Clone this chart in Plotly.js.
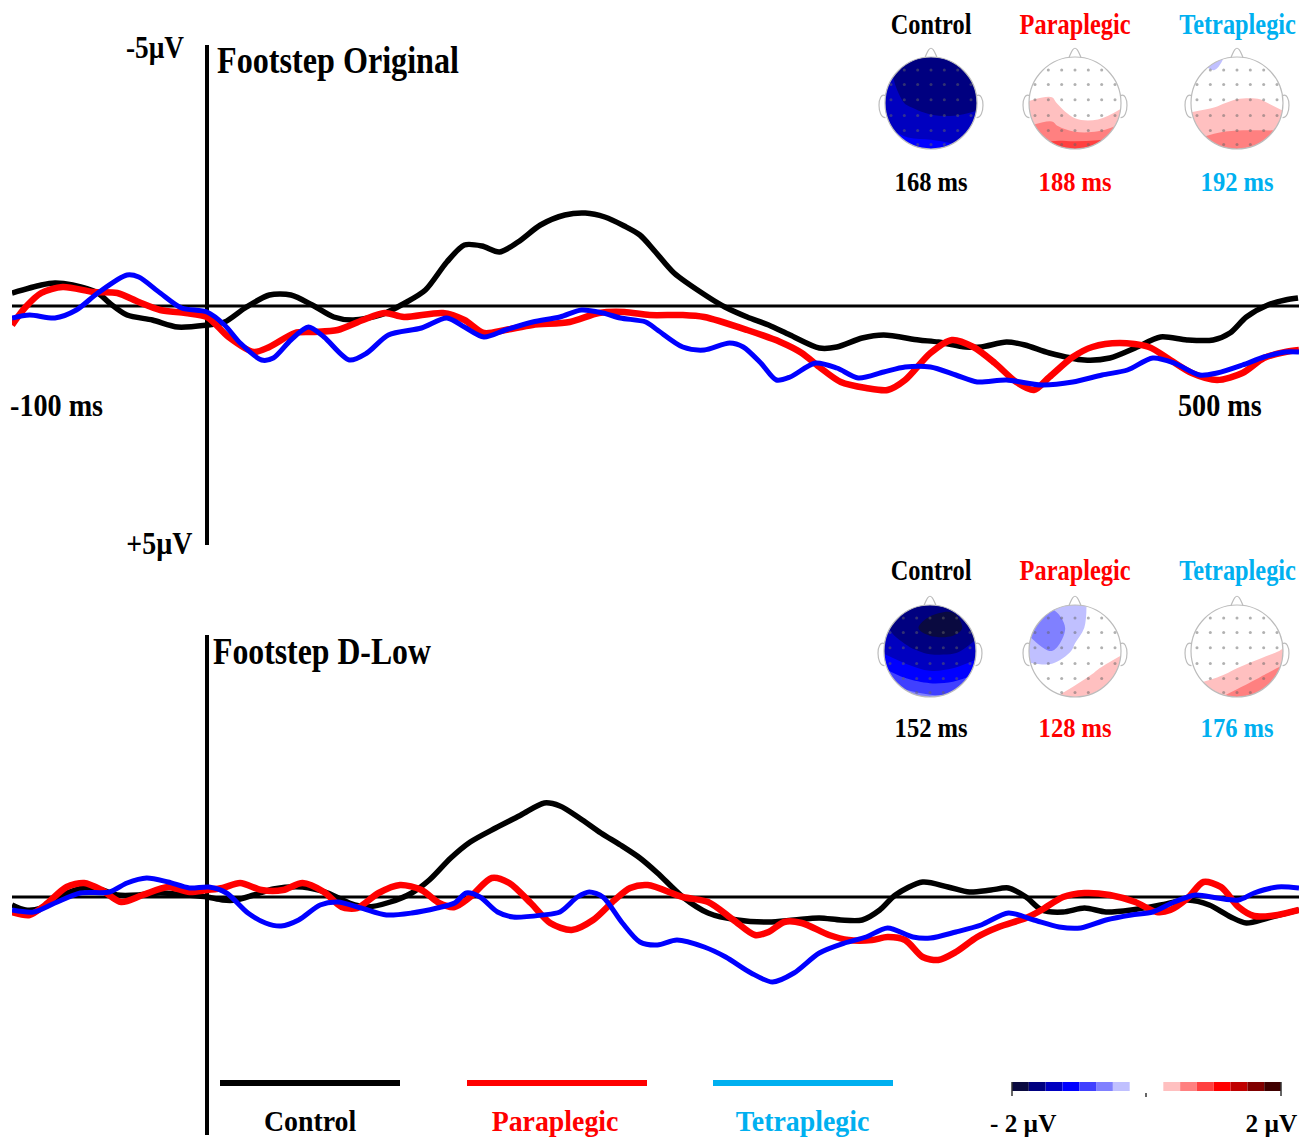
<!DOCTYPE html>
<html><head><meta charset="utf-8">
<script src="https://cdn.plot.ly/plotly-3.0.1.min.js"></script>
<style>html,body{margin:0;padding:0;background:#fff;}#chart{width:1308px;height:1142px;}</style>
</head><body><div id="chart"></div>
<script>
// ================= DATA =================
const groups = ['Control', 'Paraplegic', 'Tetraplegic'];
const panelTitles = ['Footstep Original', 'Footstep D-Low'];
const latOriginal = ['168 ms', '188 ms', '192 ms'];
const latDLow = ['152 ms', '128 ms', '176 ms'];
const timeLabels = ['-100 ms', '500 ms'];
const ampLabels = ['-5µV', '+5µV'];
const scaleLabels = ['- 2 µV', '2 µV'];

// Footstep Original (time in ms, amplitude in µV; negative plotted upward)
const origControlT = [-100,-85,-78,-69,-56,-50,-41,-28,-15,0,9,19.5,32,43,54,65,75,89,101.5,112,123,132,141,150,159.5,171,183.5,194,204,214,222,230,239.5,257,265.6,277,288,299,314,323,336,347,365,375,389,397,410,419.5,432,450,463,476,489,502.5,516,524.6,533,544,553,559.5];
const origControlV = [-0.26,-0.42,-0.46,-0.42,-0.26,-0.06,0.18,0.28,0.42,0.38,0.32,0.04,-0.22,-0.22,-0.02,0.22,0.28,0.18,-0.06,-0.32,-0.88,-1.22,-1.2,-1.08,-1.28,-1.62,-1.82,-1.86,-1.78,-1.6,-1.42,-1.08,-0.66,-0.18,0.02,0.22,0.38,0.58,0.84,0.82,0.64,0.58,0.68,0.72,0.82,0.82,0.72,0.78,0.94,1.08,1.04,0.84,0.62,0.68,0.68,0.54,0.22,-0.02,-0.12,-0.16];
const origParaT = [-100,-93,-85,-74,-58,-46,-35,-24,-11,0,11,24,32,45,54,67,80,91,101,121,132,142,153,167,186,201,214,227,244,255,277,294,305,314,325,338,349,358,371,382,393,404,415,424,432,444,454,468,483,494,505,518,531,542,553,560];
const origParaV = [0.38,0.02,-0.26,-0.38,-0.28,-0.26,-0.08,0.08,0.14,0.22,0.62,0.92,0.82,0.54,0.52,0.48,0.28,0.14,0.22,0.14,0.28,0.54,0.48,0.38,0.32,0.14,0.12,0.18,0.18,0.22,0.48,0.72,0.94,1.22,1.52,1.64,1.68,1.48,0.94,0.68,0.82,1.14,1.52,1.68,1.42,1.02,0.82,0.74,0.82,1.08,1.34,1.48,1.34,1.04,0.92,0.88];
const origTetraT = [-100,-91,-78,-67,-56,-41,-35,-24,-13,0,9,17,28,34,43,52,60,73,82,93,110,123,132,142,153,167,181,192,203,212,225,231,244,255,268,275,284,292,299,312,323,334,347,358,371,384,395,410,428,444,459,472,485,496,509,518,531,542,553,560];
const origTetraV = [0.24,0.18,0.24,0.08,-0.26,-0.62,-0.58,-0.26,0.04,0.12,0.38,0.74,1.08,1.04,0.68,0.42,0.62,1.08,0.94,0.58,0.44,0.24,0.42,0.62,0.48,0.32,0.22,0.08,0.14,0.24,0.32,0.48,0.82,0.88,0.74,0.82,1.14,1.48,1.42,1.14,1.24,1.44,1.32,1.22,1.22,1.38,1.52,1.48,1.58,1.52,1.38,1.28,1.04,1.14,1.38,1.34,1.18,1.02,0.92,0.92];

// Footstep D-Low
const dlowControlT = [-100,-93,-85,-74,-63,-54,-46,-35,-24,-11,0,8,15,24,34,49,62,73,82,94,105,114,125,135,148,161,173,181,191,202,212,222,231,244,257,272,288,301,314,325,336,345,353,367,380,391,402,411,420,428,439,450,461,474,489,503,514,525,533,544,560];
const dlowControlV = [0.16,0.26,0.22,-0.04,-0.18,-0.14,-0.04,-0.04,-0.08,-0.04,0,0.06,0.06,-0.04,-0.16,-0.2,-0.08,0.12,0.2,0.1,-0.08,-0.34,-0.78,-1.1,-1.38,-1.64,-1.88,-1.82,-1.58,-1.28,-1.04,-0.78,-0.48,0,0.32,0.46,0.5,0.46,0.42,0.46,0.46,0.26,-0.04,-0.3,-0.2,-0.1,-0.14,-0.18,0,0.26,0.3,0.22,0.3,0.26,0.16,0.06,0.16,0.4,0.52,0.42,0.26];
const dlowParaT = [-100,-91,-83,-72,-63,-54,-44,-33,-20,-9,0,8,17,28,39,49,60,69,77,88,99,110,119,127,135,146,155,166,176,187,198,209,217,226,244,257,270,281,288,296,305,319,329,341,349,358,367,375,384,395,406,420,428,439,450,463,476,487,494,503,511,520,529,537,549,560];
const dlowParaV = [0.3,0.36,0.16,-0.2,-0.28,-0.14,0.1,-0.04,-0.2,-0.1,-0.14,-0.18,-0.28,-0.14,-0.14,-0.28,-0.1,0.2,0.22,-0.08,-0.24,-0.14,0.12,0.2,0,-0.38,-0.28,0.12,0.52,0.66,0.46,0.06,-0.18,-0.24,0,0.1,0.46,0.76,0.7,0.5,0.52,0.76,0.86,0.86,0.8,0.86,1.2,1.26,1.1,0.8,0.6,0.42,0.26,0,-0.08,-0.04,0.1,0.3,0.26,0.02,-0.3,-0.2,0.2,0.38,0.36,0.26];
const dlowTetraT = [-100,-89,-78,-65,-50,-41,-31,-20,-9,1,10,21,30,38,47,58,67,79,92,105,118,127,133,140,149,157,172,181,190,196,203,213,222,231,241,255,266,279,290,301,314,327,338,349,362,371,384,397,411,424,437,448,461,474,485,496,507,518,529,537,549,560];
const dlowTetraV = [0.26,0.3,0.12,-0.08,-0.1,-0.28,-0.38,-0.3,-0.18,-0.2,-0.08,0.32,0.52,0.58,0.46,0.16,0.1,0.22,0.36,0.32,0.22,0.12,-0.08,0,0.3,0.4,0.36,0.3,0,-0.1,0,0.52,0.9,0.96,0.86,1.0,1.2,1.52,1.7,1.52,1.12,0.92,0.8,0.62,0.8,0.82,0.7,0.56,0.32,0.46,0.6,0.62,0.46,0.36,0.3,0.1,-0.04,0.02,0.06,-0.08,-0.2,-0.18];

// Topographic maps: µV on a 5x5 scalp grid (rows back -> front, cols left -> right)
const topoGrid = [-1, -0.5, 0, 0.5, 1];
const topoOrigControl = [[-1.1,-1.15,-1.15,-1.2,-1.25],[-1.25,-1.35,-1.4,-1.42,-1.4],[-1.4,-1.52,-1.6,-1.6,-1.55],[-1.45,-1.58,-1.65,-1.65,-1.6],[-1.45,-1.58,-1.65,-1.65,-1.6]];
const topoOrigPara = [[0.7,0.85,0.95,1.0,0.95],[0.5,0.55,0.35,0.35,0.55],[0.27,0.3,0.05,0.0,0.15],[0.05,0.1,0.05,0,0.05],[0,0,0,0,0]];
const topoOrigTetra = [[0.55,0.6,0.7,0.72,0.7],[0.4,0.45,0.45,0.45,0.45],[0.15,0.2,0.3,0.3,0.15],[-0.05,-0.1,0,0,0],[-0.2,-0.45,0,0,0]];
const topoDLowControl = [[-0.5,-0.6,-0.7,-0.7,-0.6],[-0.9,-1.1,-1.2,-1.15,-1.0],[-1.3,-1.45,-1.55,-1.55,-1.4],[-1.45,-1.65,-1.85,-1.85,-1.6],[-1.3,-1.5,-1.65,-1.7,-1.5]];
const topoDLowPara = [[0.1,0.22,0.4,0.55,0.6],[-0.1,-0.05,0.1,0.3,0.45],[-0.4,-0.5,-0.2,0.05,0.2],[-0.55,-0.7,-0.35,-0.1,0.05],[-0.3,-0.45,-0.3,-0.2,0]];
const topoDLowTetra = [[0.35,0.45,0.6,0.8,0.9],[0.15,0.2,0.3,0.45,0.65],[0,0.05,0.1,0.15,0.27],[0,0,0,0,0.1],[0,0,0,0,0]];
const electrodeCols = [-0.87,-0.58,-0.29,0,0.29,0.58,0.87];
const electrodeRows = [0.72,0.4,0.07,-0.27,-0.6,-0.9];

// Colour scale: -2 µV .. 2 µV in 16 steps
const scaleColors = ['#0a0a40','#000080','#0000c0','#0000ff','#4040ff','#8080ff','#c0c0ff','#ffffff','#ffffff','#ffc0c0','#ff8080','#ff4040','#ff0000','#c00000','#800000','#400000'];
const scaleSteps = [0,1,2,3,4,5,6,9,10,11,12,13,14,15];

// ================= DRAWING =================
const W = 1308, H = 1142;
const PX = p => p / W, PY = p => 1 - p / H;
const FONT = 'Liberation Serif, Times New Roman, serif';
const BLACK = '#000000', RED = '#ff0000', BLUE = '#0000ff', CYAN = '#00b0f0';
const groupColors = [BLACK, RED, CYAN];

const traces = [];
function wave(t, v, color, width, xa, ya) {
  traces.push({type:'scatter', mode:'lines', x:t, y:v, xaxis:xa, yaxis:ya,
    line:{color:color, width:width, shape:'spline', smoothing:0.8}, hoverinfo:'skip'});
}
wave(origControlT, origControlV, BLACK, 5.5, 'x', 'y');
wave(origParaT, origParaV, RED, 6.5, 'x', 'y');
wave(origTetraT, origTetraV, BLUE, 5, 'x', 'y');
wave(dlowControlT, dlowControlV, BLACK, 5.5, 'x2', 'y2');
wave(dlowParaT, dlowParaV, RED, 6.5, 'x2', 'y2');
wave(dlowTetraT, dlowTetraV, BLUE, 5, 'x2', 'y2');

const layout = {
  width: W, height: H, margin:{l:0,r:0,t:0,b:0}, paper_bgcolor:'#fff', plot_bgcolor:'rgba(0,0,0,0)',
  showlegend:false, dragmode:false,
  xaxis:{domain:[PX(12),PX(1299)], range:[-100,560], visible:false, anchor:'y'},
  yaxis:{domain:[PY(560),PY(30)], range:[5.08,-5.52], visible:false, anchor:'x'},
  xaxis2:{domain:[PX(12),PX(1299)], range:[-100,560], visible:false, anchor:'y2'},
  yaxis2:{domain:[0,PY(600)], range:[4.9,-5.94], visible:false, anchor:'x2'},
  shapes:[], annotations:[]
};

// axes lines
layout.shapes.push(
  {type:'line', xref:'x', yref:'y', x0:-100, x1:560, y0:0, y1:0, line:{color:BLACK,width:3}, layer:'below'},
  {type:'line', xref:'x', yref:'y', x0:0, x1:0, y0:-5.22, y1:4.78, line:{color:BLACK,width:4}, layer:'below'},
  {type:'line', xref:'x2', yref:'y2', x0:-100, x1:560, y0:0, y1:0, line:{color:BLACK,width:3}, layer:'below'},
  {type:'line', xref:'x2', yref:'y2', x0:0, x1:0, y0:-5.24, y1:4.76, line:{color:BLACK,width:4}, layer:'below'}
);

// topographic maps
const colorscale = [];
scaleColors.forEach((c,k) => { colorscale.push([k/16, c]); colorscale.push([(k+1)/16, c]); });
const topoData = [topoOrigControl, topoOrigPara, topoOrigTetra, topoDLowControl, topoDLowPara, topoDLowTetra];
const topoCenters = [[931,103],[1075,103],[1237,103],[930,651],[1075,651],[1237,651]];
const R = 46, EXT = 1.3;
const ex = [], ey = [];
electrodeRows.forEach(yy => electrodeCols.forEach(xx => { if (Math.hypot(xx,yy) <= 0.97) { ex.push(xx); ey.push(yy); } }));
const K = 0.5523;
const circlePath = `M 1 0 C 1 ${K} ${K} 1 0 1 C ${-K} 1 -1 ${K} -1 0 C -1 ${-K} ${-K} -1 0 -1 C ${K} -1 1 ${-K} 1 0 Z`;
topoData.forEach((z, i) => {
  const k = i + 3, [cx, cy] = topoCenters[i];
  layout['xaxis'+k] = {domain:[PX(cx-R*EXT), PX(cx+R*EXT)], range:[-EXT,EXT], visible:false, anchor:'y'+k};
  layout['yaxis'+k] = {domain:[PY(cy+R*EXT), PY(cy-R*EXT)], range:[-EXT,EXT], visible:false, anchor:'x'+k};
  traces.push({type:'contour', x:topoGrid, y:topoGrid, z:z, xaxis:'x'+k, yaxis:'y'+k,
    autocontour:false, contours:{start:-2, end:2, size:0.25, coloring:'fill', showlines:false},
    colorscale:colorscale, zmin:-2, zmax:2, zauto:false, showscale:false, line:{width:0, smoothing:1}, hoverinfo:'skip'});
  traces.push({type:'scatter', mode:'markers', x:ex, y:ey, xaxis:'x'+k, yaxis:'y'+k,
    marker:{size:3, color:'rgba(100,100,100,0.5)'}, hoverinfo:'skip'});
  const xr = 'x'+k, yr = 'y'+k;
  layout.shapes.push(
    {type:'path', xref:xr, yref:yr, path:`M ${-EXT} ${-EXT} L ${EXT} ${-EXT} L ${EXT} ${EXT} L ${-EXT} ${EXT} Z ` + circlePath,
      fillcolor:'#ffffff', fillrule:'evenodd', line:{width:0}, layer:'above'},
    {type:'path', xref:xr, yref:yr, path:circlePath, line:{color:'#bcbcbc', width:1.2}, layer:'above'},
    {type:'path', xref:xr, yref:yr, path:'M -0.13 0.99 C -0.08 1.1 -0.06 1.19 0 1.19 C 0.06 1.19 0.08 1.1 0.13 0.99', line:{color:'#bcbcbc', width:1.2}, layer:'above'},
    {type:'path', xref:xr, yref:yr, path:'M -0.99 0.16 C -1.08 0.2 -1.13 0.1 -1.13 -0.05 C -1.13 -0.2 -1.08 -0.32 -0.99 -0.32', line:{color:'#bcbcbc', width:1.2}, layer:'above'},
    {type:'path', xref:xr, yref:yr, path:'M 0.99 0.16 C 1.08 0.2 1.13 0.1 1.13 -0.05 C 1.13 -0.2 1.08 -0.32 0.99 -0.32', line:{color:'#bcbcbc', width:1.2}, layer:'above'}
  );
});

// colour scale bar
traces.push({type:'bar', x:scaleSteps, y:scaleSteps.map(() => 1), width:1, xaxis:'x9', yaxis:'y9',
  marker:{color:scaleSteps.map(s => scaleColors[s]), line:{width:0}}, hoverinfo:'skip'});
layout.xaxis9 = {domain:[PX(1012),PX(1281)], range:[-0.5,15.5], visible:false, anchor:'y9'};
layout.yaxis9 = {domain:[PY(1091),PY(1082)], range:[0,1], visible:false, anchor:'x9'};
layout.shapes.push(
  {type:'line', xref:'paper', yref:'paper', x0:PX(1012), x1:PX(1012), y0:PY(1082), y1:PY(1096), line:{color:'#333',width:1.5}},
  {type:'line', xref:'paper', yref:'paper', x0:PX(1281), x1:PX(1281), y0:PY(1082), y1:PY(1096), line:{color:'#333',width:1.5}},
  {type:'line', xref:'paper', yref:'paper', x0:PX(1146), x1:PX(1146), y0:PY(1093), y1:PY(1097), line:{color:'#333',width:1.5}}
);

// legend lines
[[220,400],[467,647],[713,893]].forEach((seg,i) => layout.shapes.push(
  {type:'line', xref:'paper', yref:'paper', x0:PX(seg[0]), x1:PX(seg[1]), y0:PY(1083), y1:PY(1083), line:{color:groupColors[i], width:6}}
));

// texts (serif bold, horizontally condensed like the reference)
const annScale = [];
function ann(text, x, y, size, color, xanchor, sx) {
  layout.annotations.push({text:'<b>'+text+'</b>', xref:'paper', yref:'paper', x:PX(x), y:PY(y),
    xanchor:xanchor || 'center', yanchor:'middle', showarrow:false, font:{family:FONT, size:size, color:color}});
  annScale.push(sx || 1);
}
ann(panelTitles[0], 215, 60, 38, BLACK, 'left', 0.846);
ann(panelTitles[1], 211, 651, 38, BLACK, 'left', 0.836);
ann(ampLabels[0], 187, 47, 31, BLACK, 'right', 0.88);
ann(ampLabels[1], 195, 543, 31, BLACK, 'right', 0.9);
ann(timeLabels[0], 8, 405, 32, BLACK, 'left', 0.88);
ann(timeLabels[1], 1176, 405, 32, BLACK, 'left', 0.88);
const hx = [931, 1075, 1237];
groups.forEach((g,i) => {
  ann(g, hx[i], 24, 29, groupColors[i], 'center', 0.84);
  ann(latOriginal[i], hx[i], 182, 27, groupColors[i], 'center', 0.91);
  ann(g, hx[i], 570, 29, groupColors[i], 'center', 0.84);
  ann(latDLow[i], hx[i], 728, 27, groupColors[i], 'center', 0.91);
});
[310, 555, 802].forEach((x,i) => ann(groups[i], x, 1121, 29, groupColors[i], 'center', 0.96));
ann(scaleLabels[0], 988, 1123, 26, BLACK, 'left', 0.97);
ann(scaleLabels[1], 1299, 1123, 26, BLACK, 'right', 0.97);

Plotly.newPlot('chart', traces, layout, {staticPlot:true, displayModeBar:false}).then(() => {
  document.querySelectorAll('#chart g.annotation').forEach(g => {
    const i = +g.getAttribute('data-index');
    const s = annScale[i], a = layout.annotations[i];
    const t = g.querySelector('text');
    if (!t || !s || s === 1) return;
    t.style.transformBox = 'fill-box';
    t.style.transformOrigin = a.xanchor === 'left' ? 'left center' : (a.xanchor === 'right' ? 'right center' : 'center center');
    t.style.transform = 'scaleX(' + s + ')';
  });
});
</script>
</body></html>
